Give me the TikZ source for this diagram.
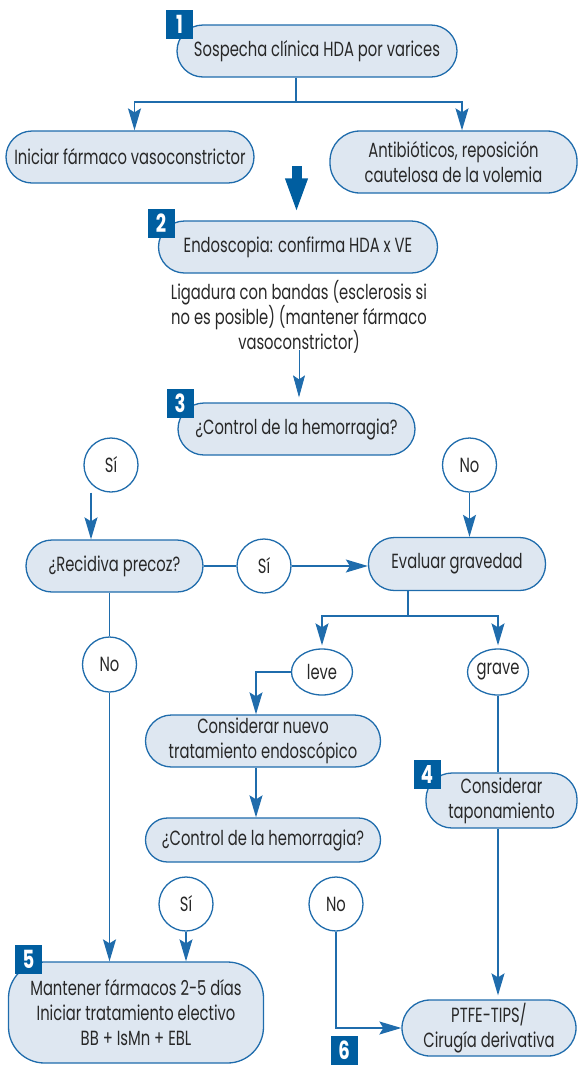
\documentclass[tikz,border=0pt]{standalone}
\usepackage{fontspec}
\setmainfont{Poppins}[FakeStretch=0.72]
\usepackage{tikz}
\usetikzlibrary{arrows.meta,shapes.geometric,calc}

\definecolor{flowblue}{RGB}{31,108,172}
\definecolor{badgeblue}{RGB}{0,94,160}
\definecolor{boxfill}{RGB}{222,231,241}
\definecolor{txtgray}{RGB}{40,40,40}

\tikzset{
	pill/.style={draw=flowblue, fill=boxfill, line width=1.3pt, rounded corners=26pt, text=txtgray, align=center, inner sep=0pt},
	oval/.style={ellipse, draw=flowblue, fill=white, line width=1.3pt, text=txtgray, inner sep=0pt},
	badge/.style={fill=badgeblue, text=white, minimum width=27pt, minimum height=29pt, inner sep=0pt, font=\fontsize{25}{25}\selectfont\bfseries},
	flow/.style={draw=flowblue, line width=1.3pt},
	tip/.style={-{Stealth[length=22pt,width=13pt,inset=4pt]}}
}

\begin{document}
\begin{tikzpicture}[x=1pt, y=-1pt, font=\fontsize{20.5}{25}\selectfont]
	\useasboundingbox (0,0) rectangle (578,1066);
	\node[pill, minimum width=280pt, minimum height=52pt] (b1) at (317,51) {Sospecha clínica HDA por varices};
	\node[pill, minimum width=248pt, minimum height=52pt] (vaso) at (130,157) {Iniciar fármaco vasoconstrictor};
	\node[pill, minimum width=247pt, minimum height=62pt, rounded corners=30pt] (anti) at (453.5,162) {Antibióticos, reposición\\cautelosa de la volemia};
	\node[pill, minimum width=279pt, minimum height=52pt] (b2) at (298,247) {Endoscopia: confirma HDA x VE};
	\node[text=txtgray, align=center, inner sep=0pt] (lig) at (299,317) {Ligadura con bandas (esclerosis si\\no es posible) (mantener fármaco\\vasoconstrictor)};
	\node[pill, minimum width=237pt, minimum height=52pt] (b3) at (296.5,429) {¿Control de la hemorragia?};
	\node[oval, minimum width=54pt, minimum height=54pt] (si1) at (111,465) {Sí};
	\node[oval, minimum width=54pt, minimum height=54pt] (no1) at (469.5,465) {No};
	\node[pill, minimum width=177pt, minimum height=52pt] (rec) at (114.5,566) {¿Recidiva precoz?};
	\node[oval, minimum width=54pt, minimum height=54pt] (si2) at (264,566) {Sí};
	\node[pill, minimum width=177pt, minimum height=53pt] (eva) at (457,564) {Evaluar gravedad};
	\node[oval, minimum width=54pt, minimum height=55pt] (no2) at (109.5,664.5) {No};
	\node[oval, minimum width=61pt, minimum height=46pt] (leve) at (322,672) {leve};
	\node[oval, minimum width=61pt, minimum height=46pt] (grave) at (498,672) {grave};
	\node[pill, minimum width=235pt, minimum height=52pt] (nuevo) at (263,741) {Considerar nuevo\\tratamiento endoscópico};
	\node[pill, minimum width=151pt, minimum height=55pt] (b4) at (501.5,800.5) {Considerar\\taponamiento};
	\node[pill, minimum width=235pt, minimum height=44pt, rounded corners=22pt] (ctrl) at (263,840) {¿Control de la hemorragia?};
	\node[oval, minimum width=54pt, minimum height=54pt] (si3) at (186,904) {Sí};
	\node[oval, minimum width=54pt, minimum height=54pt] (no3) at (336,904) {No};
	\node[pill, minimum width=255pt, minimum height=101pt, rounded corners=36pt] (b5) at (136,1012.5) {Mantener fármacos 2-5 días\\Iniciar tratamiento electivo\\BB + IsMn + EBL};
	\node[pill, minimum width=174pt, minimum height=56pt, rounded corners=28pt] (b6) at (489,1028) {PTFE-TIPS/\\Cirugía derivativa};

	\coordinate (sp1) at (296,102);
	\draw[flow] (b1.south -| sp1) -- (sp1);
	\draw[flow,tip] (sp1) -| ([xshift=4.5pt]vaso.north);
	\draw[flow,tip] (sp1) -| ([xshift=8.5pt]anti.north);
	\coordinate (big) at (296.5,166);
	\draw[badgeblue, line width=10pt, -{Triangle[length=35pt,width=20pt]}] (big) -- ([yshift=7pt]b2.north -| big);
	\draw[draw=flowblue, line width=0.8pt, -{Stealth[length=22pt,width=12pt,inset=4pt]}, fill=flowblue] ([yshift=4pt]lig.south) -- ([yshift=5pt]b3.north -| lig.south);
	\draw[flow,tip] ([xshift=-20pt]si1.south) -- ([xshift=-20pt]si1.south |- rec.north);
	\draw[flow] (rec.east) -- (si2.west);
	\draw[flow,tip] (si2.east) -- (eva.west |- si2.east);
	\draw[flow,tip] (no1.south) -- (no1.south |- eva.north);
	\coordinate (sp2) at (408,616);
	\draw[flow] (eva.south -| sp2) -- (sp2);
	\draw[flow,tip] (sp2) -| ([yshift=3pt]leve.north);
	\draw[flow,tip] (sp2) -| ([yshift=3pt]grave.north);
	\draw[flow] (rec.south -| no2) -- (no2.north);
	\draw[flow,tip] (no2.south) -- (no2.south |- b5.north);
	\draw[flow,tip] (leve.west) -| ([xshift=-7pt]nuevo.north);
	\draw[flow,tip] ([xshift=-7pt]nuevo.south) -- ([xshift=-7pt]ctrl.north);
	\draw[flow] (grave.south) -- (grave.south |- b4.north);
	\draw[flow,tip] (b4.south -| grave.south) -- ([yshift=4pt]grave.south |- b6.north);
	\draw[flow,tip] (si3.south) -- (si3.south |- b5.north);
	\draw[flow,tip] (no3.south) |- (b6.west);

	\node[badge] (n1) at (179.5,24.5) {1};
	\node[badge] (n2) at (161,223) {2};
	\node[badge] (n3) at (180,403.5) {3};
	\node[badge] (n4) at (427,774.5) {4};
	\node[badge] (n5) at (28.5,959.5) {5};
	\node[badge] (n6) at (344,1050) {6};
\end{tikzpicture}
\end{document}
